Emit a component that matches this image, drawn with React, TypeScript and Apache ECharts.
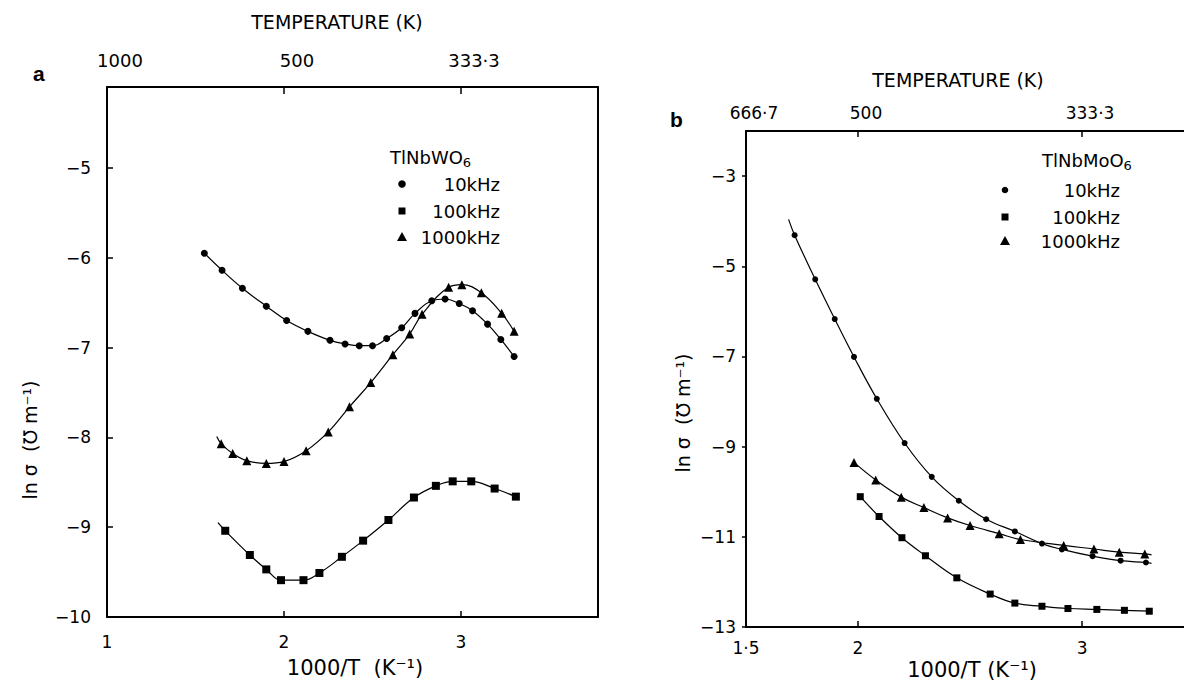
import React, { useEffect, useRef } from "react";
import * as echarts from "echarts";

// ---------- Data ----------
// Panel a: TlNbWO6, ln sigma vs 1000/T
const a10kHz: number[][] = [
  [1.55, -5.95], [1.65, -6.14], [1.765, -6.34], [1.9, -6.54], [2.015, -6.7],
  [2.135, -6.82], [2.26, -6.92], [2.345, -6.96], [2.425, -6.98], [2.5, -6.98],
  [2.58, -6.9], [2.665, -6.78], [2.74, -6.62], [2.835, -6.48], [2.91, -6.46],
  [2.99, -6.51], [3.065, -6.59], [3.15, -6.74], [3.225, -6.91], [3.3, -7.1],
];
const a100kHzStart: number[] = [1.627, -8.95];
const a100kHz: number[][] = [
  [1.668, -9.04], [1.807, -9.31], [1.9, -9.47], [1.983, -9.59], [2.11, -9.59],
  [2.2, -9.51], [2.327, -9.33], [2.447, -9.15], [2.59, -8.92], [2.734, -8.67],
  [2.858, -8.54], [2.953, -8.49], [3.058, -8.49], [3.19, -8.57], [3.31, -8.66],
];
const a1000kHzStart: number[] = [1.62, -7.99];
const a1000kHz: number[][] = [
  [1.645, -8.07], [1.71, -8.18], [1.79, -8.26], [1.9, -8.29], [2.0, -8.27],
  [2.125, -8.15], [2.25, -7.94], [2.37, -7.66], [2.49, -7.39], [2.615, -7.08],
  [2.71, -6.85], [2.78, -6.63], [2.93, -6.33], [3.005, -6.3], [3.115, -6.39],
  [3.23, -6.62], [3.3, -6.82],
];

// Panel b: TlNbMoO6
const b10kHzStart: number[] = [1.69, -3.96];
const b10kHz: number[][] = [
  [1.717, -4.31], [1.809, -5.29], [1.896, -6.17], [1.982, -7.01], [2.084, -7.94],
  [2.208, -8.92], [2.329, -9.67], [2.45, -10.2], [2.572, -10.61], [2.7, -10.88],
  [2.821, -11.15], [2.91, -11.28], [3.047, -11.43], [3.172, -11.53], [3.285, -11.57],
];
const b10kHzEnd: number[] = [3.31, -11.59];
const b100kHz: number[][] = [
  [2.01, -10.11], [2.094, -10.55], [2.196, -11.02], [2.301, -11.42], [2.441, -11.91],
  [2.59, -12.27], [2.7, -12.47], [2.821, -12.54], [2.937, -12.59], [3.066, -12.61],
  [3.189, -12.63], [3.3, -12.65],
];
const b1000kHz: number[][] = [
  [1.982, -9.35], [2.079, -9.74], [2.193, -10.12], [2.294, -10.35], [2.4, -10.58],
  [2.5, -10.75], [2.63, -10.93], [2.725, -11.06], [2.918, -11.19], [3.053, -11.27],
  [3.166, -11.34], [3.28, -11.38],
];
const b1000kHzEnd: number[] = [3.31, -11.4];

// Tick values / labels
const aBottomTicks = [1, 2, 3];
const aTopLabels = ["1000", "500", "333·3"];
const aYTicks = [-10, -9, -8, -7, -6, -5];
const bBottomTicks = [1.5, 2, 3];
const bBottomLabels = ["1·5", "2", "3"];
const bTopLabels = ["666·7", "500", "333·3"];
const bYTicks = [-13, -11, -9, -7, -5, -3];

const seriesNames = ["10kHz", "100kHz", "1000kHz"];

const FONT = "DejaVu Sans";
const INK = "#000";

function withStart(start: number[] | null, pts: number[][], end: number[] | null) {
  const out: any[] = [];
  if (start) out.push({ value: start, symbol: "none" });
  pts.forEach((p) => out.push(p));
  if (end) out.push({ value: end, symbol: "none" });
  return out;
}

function fmtNeg(v: number) {
  return v < 0 ? "\u2212" + Math.abs(v) : String(v);
}

export default function App() {
  const ref = useRef<HTMLDivElement>(null);

  useEffect(() => {
    if (!ref.current) return;
    const chart = echarts.init(ref.current, undefined, { renderer: "svg" });

    const axisLine = { show: true, lineStyle: { color: INK, width: 2 } };
    const labelStyle = { color: INK, fontSize: 17, fontFamily: FONT };

    const lineSeries = (
      name: string,
      data: any[],
      symbol: string,
      size: number,
      xi: number,
      yi: number
    ) => ({
      name,
      type: "line",
      xAxisIndex: xi,
      yAxisIndex: yi,
      data,
      smooth: 0.4,
      symbol,
      symbolSize: size,
      showAllSymbol: true,
      lineStyle: { color: INK, width: 1.2 },
      itemStyle: { color: INK },
      z: 3,
    });

    const legendText = (x: number, y: number, text: string, size: number) => ({
      type: "text", x, y,
      style: { text, font: `${size}px '${FONT}'`, fill: INK, align: "right", verticalAlign: "middle" },
    });

    const option: any = {
      animation: false,
      backgroundColor: "#fff",
      grid: [
        { left: 107, top: 87, width: 491, height: 530 },
        { left: 746, top: 131, width: 438, height: 496 },
      ],
      xAxis: [
        {
          gridIndex: 0, type: "value", position: "bottom", min: 1, max: 3.774,
          axisLine,
          axisTick: { show: true, inside: true, length: 6, customValues: [2, 3], lineStyle: { color: INK, width: 1.5 } },
          axisLabel: { ...labelStyle, customValues: aBottomTicks, margin: 16, formatter: (v: number) => String(v) },
          splitLine: { show: false },
        },
        {
          gridIndex: 0, type: "value", position: "top", min: 1, max: 3.774,
          axisLine,
          axisTick: { show: true, inside: true, length: 7, customValues: [2, 3], lineStyle: { color: INK, width: 1.5 } },
          axisLabel: {
            ...labelStyle, fontSize: 18, customValues: aBottomTicks, margin: 18, padding: [0, 0, 0, 26],
            formatter: (v: number) => aTopLabels[aBottomTicks.indexOf(Math.round(v))] ?? "",
          },
          splitLine: { show: false },
        },
        {
          gridIndex: 1, type: "value", position: "bottom", min: 1.5, max: 3.455,
          axisLine,
          axisTick: { show: true, inside: true, length: 6, customValues: [2, 3], lineStyle: { color: INK, width: 1.5 } },
          axisLabel: {
            ...labelStyle, customValues: bBottomTicks, margin: 12,
            formatter: (v: number) => {
              const i = bBottomTicks.findIndex((t) => Math.abs(t - v) < 1e-6);
              return i >= 0 ? bBottomLabels[i] : "";
            },
          },
          splitLine: { show: false },
        },
        {
          gridIndex: 1, type: "value", position: "top", min: 1.5, max: 3.455,
          axisLine,
          axisTick: { show: true, inside: true, length: 6, customValues: [2, 3], lineStyle: { color: INK, width: 1.5 } },
          axisLabel: {
            ...labelStyle, fontSize: 17, customValues: bBottomTicks, margin: 10, padding: [0, 0, 0, 16],
            formatter: (v: number) => {
              const i = bBottomTicks.findIndex((t) => Math.abs(t - v) < 1e-6);
              return i >= 0 ? bTopLabels[i] : "";
            },
          },
          splitLine: { show: false },
        },
      ],
      yAxis: [
        {
          gridIndex: 0, type: "value", position: "left", min: -10, max: -4.1,
          axisLine,
          axisTick: { show: true, inside: true, length: 6, customValues: aYTicks.slice(1), lineStyle: { color: INK, width: 1.5 } },
          axisLabel: { ...labelStyle, customValues: aYTicks, margin: 16, formatter: fmtNeg },
          splitLine: { show: false },
        },
        {
          gridIndex: 0, type: "value", position: "right", min: -10, max: -4.1,
          axisLine,
          axisTick: { show: false },
          axisLabel: { show: false },
          splitLine: { show: false },
        },
        {
          gridIndex: 1, type: "value", position: "left", min: -13, max: -2,
          axisLine,
          axisTick: { show: true, inside: false, length: 4, customValues: bYTicks, lineStyle: { color: INK, width: 1.5 } },
          axisLabel: { ...labelStyle, customValues: bYTicks, margin: 10, formatter: fmtNeg },
          splitLine: { show: false },
        },
      ],
      series: [
        lineSeries(seriesNames[0], withStart(null, a10kHz, null), "circle", 7, 0, 0),
        lineSeries(seriesNames[1], withStart(a100kHzStart, a100kHz, null), "rect", 8, 0, 0),
        lineSeries(seriesNames[2], withStart(a1000kHzStart, a1000kHz, null), "triangle", 9, 0, 0),
        lineSeries(seriesNames[0], withStart(b10kHzStart, b10kHz, b10kHzEnd), "circle", 6, 2, 2),
        lineSeries(seriesNames[1], withStart(null, b100kHz, null), "rect", 7, 2, 2),
        lineSeries(seriesNames[2], withStart(null, b1000kHz, b1000kHzEnd), "triangle", 9, 2, 2),
      ],
      graphic: [
        // panel letters
        { type: "text", left: 33, top: 63, style: { text: "a", font: "bold 21px 'Liberation Sans'", fill: INK } },
        { type: "text", left: 670, top: 109, style: { text: "b", font: "bold 21px 'Liberation Sans'", fill: INK } },
        // temperature titles
        { type: "text", x: 337, y: 22, style: { text: "TEMPERATURE (K)", font: `19px '${FONT}'`, fill: INK, align: "center", verticalAlign: "middle" } },
        { type: "text", x: 958, y: 80, style: { text: "TEMPERATURE (K)", font: `19px '${FONT}'`, fill: INK, align: "center", verticalAlign: "middle" } },
        // x titles
        { type: "text", x: 355, y: 668, style: { text: "1000/T  (K\u207B\u00B9)", font: `21px '${FONT}'`, fill: INK, align: "center", verticalAlign: "middle" } },
        { type: "text", x: 972, y: 670, style: { text: "1000/T (K\u207B\u00B9)", font: `21px '${FONT}'`, fill: INK, align: "center", verticalAlign: "middle" } },
        // y titles
        { type: "text", x: 30, y: 440, rotation: Math.PI / 2, style: { text: "ln \u03C3  (\u2127 m\u207B\u00B9)", font: `19px '${FONT}'`, fill: INK, align: "center", verticalAlign: "middle" } },
        { type: "text", x: 683, y: 413, rotation: Math.PI / 2, style: { text: "ln \u03C3  (\u2127 m\u207B\u00B9)", font: `19px '${FONT}'`, fill: INK, align: "center", verticalAlign: "middle" } },
        // legend a
        {
          type: "text", x: 390, y: 157,
          style: {
            text: "{m|TlNbWO}{s|6}", fill: INK, verticalAlign: "middle",
            rich: { m: { fontSize: 18, fontFamily: FONT, fill: INK }, s: { fontSize: 13, fontFamily: FONT, fill: INK, padding: [11, 0, 0, 0] } },
          },
        },
        { type: "circle", shape: { cx: 402, cy: 184, r: 3.8 }, style: { fill: INK } },
        { type: "rect", shape: { x: 398.5, y: 207.5, width: 7, height: 7 }, style: { fill: INK } },
        { type: "polygon", shape: { points: [[402, 232], [397, 241], [407, 241]] }, style: { fill: INK } },
        legendText(500, 184, seriesNames[0], 18),
        legendText(500, 211, seriesNames[1], 18),
        legendText(500, 237, seriesNames[2], 18),
        // legend b
        {
          type: "text", x: 1042, y: 160,
          style: {
            text: "{m|TlNbMoO}{s|6}", fill: INK, verticalAlign: "middle",
            rich: { m: { fontSize: 18, fontFamily: FONT, fill: INK }, s: { fontSize: 13, fontFamily: FONT, fill: INK, padding: [11, 0, 0, 0] } },
          },
        },
        { type: "circle", shape: { cx: 1005, cy: 190, r: 3.3 }, style: { fill: INK } },
        { type: "rect", shape: { x: 1001.5, y: 213.5, width: 7, height: 7 }, style: { fill: INK } },
        { type: "polygon", shape: { points: [[1005, 236], [1000, 245], [1010, 245]] }, style: { fill: INK } },
        legendText(1120, 190, seriesNames[0], 18),
        legendText(1120, 217, seriesNames[1], 18),
        legendText(1120, 241, seriesNames[2], 18),
      ],
    };

    chart.setOption(option);
    return () => chart.dispose();
  }, []);

  return (
    <div
      ref={ref}
      style={{ position: "absolute", left: 0, top: 0, width: 1184, height: 686, background: "#fff" }}
    />
  );
}
